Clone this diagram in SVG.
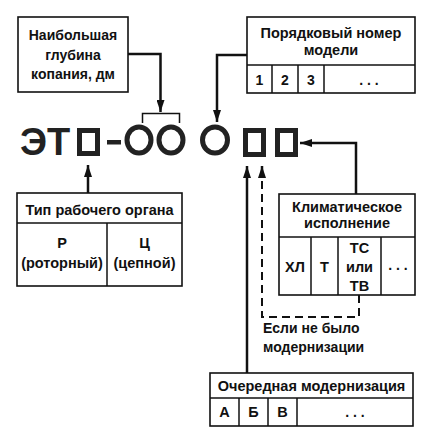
<svg xmlns="http://www.w3.org/2000/svg" width="432" height="435" viewBox="0 0 432 435">
<style>
text{font-family:"Liberation Sans",Arial,sans-serif;fill:#111;text-anchor:middle}
.t{font-size:14.5px;font-weight:bold}
.s{font-size:14px;font-weight:bold}
.c{font-size:14px;font-weight:bold}
.box{fill:#fff;stroke:#111;stroke-width:1.6}
.ln{fill:none;stroke:#111;stroke-width:1.5}
.con{fill:none;stroke:#111;stroke-width:2.5}
.dash{fill:none;stroke:#111;stroke-width:2;stroke-dasharray:8 5}
.big{font-size:38px;font-weight:bold;fill:#222}
.ph{fill:none;stroke:#222;stroke-width:5}
</style>
<defs>
<marker id="ah" viewBox="0 0 12 8" refX="12" refY="4" markerWidth="12" markerHeight="8" markerUnits="userSpaceOnUse" orient="auto">
<path d="M0,0 L12,4 L0,8 Z" fill="#111"/>
</marker>
</defs>

<g id="code">
<text class="big" x="45" y="155">ЭТ</text>
<rect class="ph" x="79.500" y="130.500" width="18" height="23"/>
<rect x="107" y="140" width="14" height="4.500" fill="#222"/>
<ellipse class="ph" cx="139" cy="140" rx="12" ry="13" stroke-width="4.500"/>
<ellipse class="ph" cx="171" cy="140" rx="12" ry="13" stroke-width="4.500"/>
<ellipse class="ph" cx="215" cy="140" rx="12.500" ry="13" stroke-width="4.500"/>
<rect class="ph" x="245.500" y="130.500" width="18" height="24"/>
<rect class="ph" x="277.500" y="130.500" width="18" height="24"/>
</g>

<g id="depth">
<rect class="box" x="18" y="17" width="110" height="75"/>
<text class="s" x="73" y="40">Наибольшая</text>
<text class="s" x="73" y="60">глубина</text>
<text class="s" x="73" y="79">копания, дм</text>
</g>

<g id="model">
<rect class="box" x="247" y="17" width="168" height="76"/>
<line class="ln" x1="247" y1="65" x2="415" y2="65"/>
<line class="ln" x1="272" y1="65" x2="272" y2="93"/>
<line class="ln" x1="298" y1="65" x2="298" y2="93"/>
<line class="ln" x1="324" y1="65" x2="324" y2="93"/>
<text class="t" x="331" y="38">Порядковый номер</text>
<text class="t" x="331" y="55">модели</text>
<text class="c" x="259.500" y="85">1</text>
<text class="c" x="285" y="85">2</text>
<text class="c" x="311" y="85">3</text>
<text class="c" x="369" y="85">. . .</text>
</g>

<g id="type">
<rect class="box" x="17" y="193" width="165" height="93"/>
<line class="ln" x1="17" y1="223" x2="182" y2="223"/>
<line class="ln" x1="107" y1="223" x2="107" y2="286"/>
<text class="t" x="99.500" y="215">Тип рабочего органа</text>
<text class="t" x="62" y="248">Р</text>
<text class="t" x="62" y="268">(роторный)</text>
<text class="t" x="144.500" y="248">Ц</text>
<text class="t" x="144.500" y="268">(цепной)</text>
</g>

<g id="climate">
<rect class="box" x="279" y="194" width="136" height="101"/>
<line class="ln" x1="279" y1="237" x2="415" y2="237"/>
<line class="ln" x1="311" y1="237" x2="311" y2="295"/>
<line class="ln" x1="338" y1="237" x2="338" y2="295"/>
<line class="ln" x1="381" y1="237" x2="381" y2="295"/>
<text class="t" x="347" y="212">Климатическое</text>
<text class="t" x="347" y="228">исполнение</text>
<text class="t" x="295" y="272">ХЛ</text>
<text class="t" x="324.500" y="272">Т</text>
<text class="t" x="359.500" y="253">ТС</text>
<text class="t" x="359.500" y="272">или</text>
<text class="t" x="359.500" y="291">ТВ</text>
<text class="c" x="398" y="270">. . .</text>
</g>

<g id="note">
<text class="s" x="263" y="333" style="text-anchor:start">Если не было</text>
<text class="s" x="263" y="352" style="text-anchor:start">модернизации</text>
</g>

<g id="modernization">
<rect class="box" x="210" y="373" width="203" height="53"/>
<line class="ln" x1="210" y1="398" x2="413" y2="398"/>
<line class="ln" x1="239" y1="398" x2="239" y2="426"/>
<line class="ln" x1="268" y1="398" x2="268" y2="426"/>
<line class="ln" x1="297" y1="398" x2="297" y2="426"/>
<text class="t" x="311.500" y="391">Очередная модернизация</text>
<text class="t" x="224.500" y="417">А</text>
<text class="t" x="253.500" y="417">Б</text>
<text class="t" x="282.500" y="417">В</text>
<text class="c" x="355" y="417">. . .</text>
</g>

<g id="connectors">
<path class="con" d="M128,54 H160.500 V112" marker-end="url(#ah)"/>
<path class="ln" d="M142.500,123 V113.500 H179.500 V123" stroke-width="2"/>
<path class="con" d="M247,55 H217 V122" marker-end="url(#ah)"/>
<path class="con" d="M356,194 V143 H300" marker-end="url(#ah)"/>
<path class="con" d="M88,193 V165" marker-end="url(#ah)"/>
<path class="con" d="M247,373 V166" marker-end="url(#ah)"/>
<path class="dash" d="M359,295 V317 H262 V176"/>
<path class="con" d="M262,178 V166" stroke-width="2" marker-end="url(#ah)"/>
</g>
</svg>
